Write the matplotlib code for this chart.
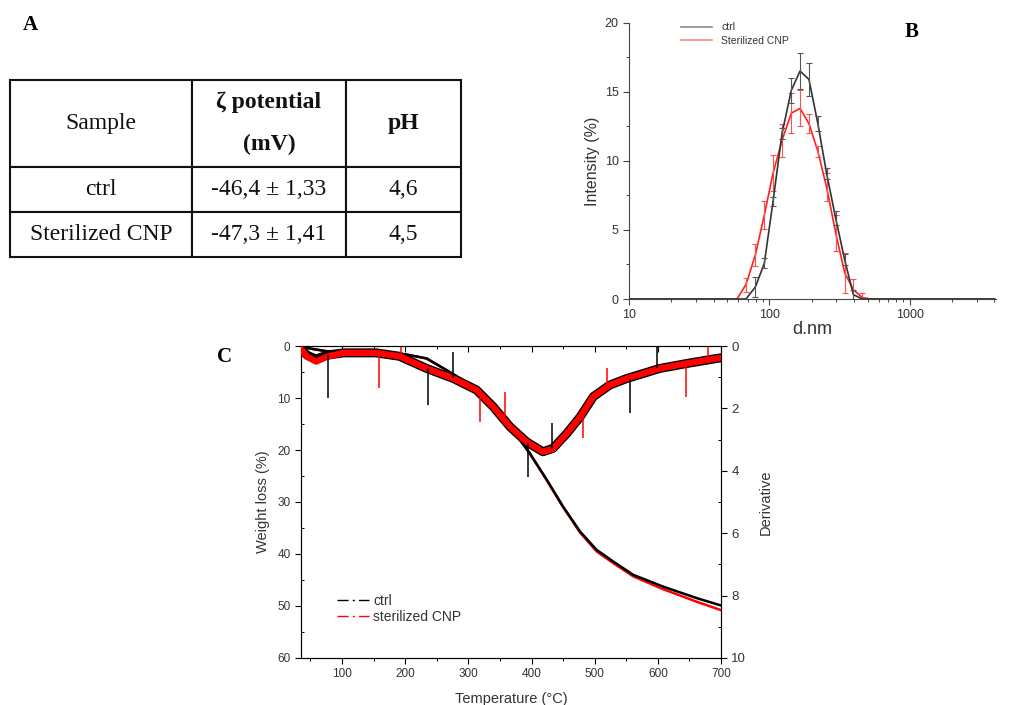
import numpy as np
import matplotlib
matplotlib.use('Agg')
import matplotlib.pyplot as plt
from matplotlib.lines import Line2D
from matplotlib.ticker import MultipleLocator, LogLocator, NullFormatter, FixedLocator

plt.rcParams['font.family'] = ['Liberation Sans', 'DejaVu Sans']

# --- A: zeta potential table ---
table_cols = ['Sample', 'ζ potential\n(mV)', 'pH']
table_rows = [['ctrl', '-46,4 ± 1,33', '4,6'],
              ['Sterilized CNP', '-47,3 ± 1,41', '4,5']]

# --- B: DLS size distribution (d.nm vs intensity %) ---
ctrl_d = [10, 68, 79.4, 92, 106, 123, 143, 165, 191, 221, 255, 296, 343, 396, 459, 4000]
ctrl_int = [0, 0, 0.87, 2.6, 7.06, 12.0, 15.1, 16.5, 15.9, 12.7, 9.1, 5.86, 2.84, 0.31, 0, 0]
ctrl_err = [0, 0, 0.75, 0.35, 0.35, 0.4, 0.9, 1.3, 1.2, 0.55, 0.4, 0.5, 0.4, 0.35, 0, 0]

cnp_d = [10, 58.7, 68, 79.4, 92, 106, 123, 143, 165, 191, 221, 255, 296, 343, 396, 459, 530, 4000]
cnp_int = [0, 0, 1.04, 3.2, 6.1, 9.1, 11.5, 13.45, 13.8, 12.7, 10.7, 8.1, 4.8, 1.9, 0.67, 0.1, 0, 0]
cnp_err = [0, 0, 0.5, 0.8, 1.0, 1.3, 1.2, 1.45, 1.3, 0.7, 0.4, 1.0, 1.3, 1.45, 0.8, 0.3, 0, 0]

# --- C: TGA / DTG ---
temp_tga = [35, 50, 75, 150, 200, 234, 276, 313, 350, 380, 397, 424, 450, 477, 503, 530, 561, 609, 662, 700]
wl_ctrl = [0, 0.5, 1.0, 1.0, 1.6, 2.4, 5.4, 8.3, 12.6, 17.8, 20.6, 25.7, 30.9, 35.7, 39.2, 41.5, 44.0, 46.3, 48.5, 49.9]
wl_cnp = [0, 0.5, 1.0, 1.0, 1.6, 2.4, 5.4, 8.3, 12.6, 17.8, 20.6, 25.8, 31.0, 35.9, 39.5, 41.8, 44.3, 46.8, 49.2, 50.8]

temp_dtg = [35, 45, 59, 75, 102, 154, 191, 234, 276, 313, 339, 366, 392, 418, 434, 456, 477, 498, 524, 551, 577, 603, 646, 693, 700]
dtg_ctrl = [0.1, 0.3, 0.42, 0.3, 0.22, 0.22, 0.33, 0.72, 1.04, 1.41, 1.94, 2.59, 3.07, 3.39, 3.28, 2.80, 2.27, 1.62, 1.25, 1.04, 0.88, 0.72, 0.56, 0.40, 0.38]
dtg_cnp = [0.1, 0.35, 0.5, 0.35, 0.22, 0.22, 0.33, 0.72, 1.04, 1.41, 1.94, 2.59, 3.07, 3.39, 3.30, 2.80, 2.27, 1.62, 1.25, 1.04, 0.88, 0.72, 0.56, 0.40, 0.38]

# sharp spikes in the DTG signal: temperature, band level, spike tip
spk_ctrl_t = [77, 236, 276, 395, 433, 556, 598]
spk_ctrl_a = [0.3, 0.72, 1.04, 3.1, 3.3, 1.05, 0.72]
spk_ctrl_b = [1.67, 1.88, 0.18, 4.2, 2.47, 2.16, 0.02]
spk_cnp_t = [158, 194, 318, 358, 481, 519, 644, 680]
spk_cnp_a = [0.22, 0.3, 1.5, 2.3, 2.2, 1.3, 0.56, 0.45]
spk_cnp_b = [1.34, 0.02, 2.43, 1.46, 2.96, 0.72, 1.62, 0.02]

W, H = 1022, 705
fig = plt.figure(figsize=(W / 100, H / 100), dpi=100)

def fx(px):
    return px / W

def fy(py):
    return 1 - py / H

serif = ['Liberation Serif', 'DejaVu Serif']

# ---------------- A ----------------
fig.text(fx(30), fy(25), 'A', fontsize=15, fontweight='bold', family=serif, ha='center', va='center')
ax_t = fig.add_axes([fx(10), fy(257), fx(451), 177 / H])
ax_t.axis('off')
tbl = ax_t.table(cellText=table_rows, colLabels=table_cols, cellLoc='center',
                 colWidths=[182, 154, 115], bbox=[0, 0, 1, 1])
tbl.auto_set_font_size(False)
for (r, c), cell in tbl.get_celld().items():
    cell.set_height(87 if r == 0 else 45)
    cell.set_linewidth(1.5)
    cell.set_edgecolor('#111111')
    txt = cell.get_text()
    txt.set_fontfamily(serif)
    txt.set_fontsize(17)
    txt.set_color('#111111')
    if r == 0 and c > 0:
        txt.set_fontweight('bold')
        txt.set_linespacing(2.3)

# ---------------- B ----------------
axb = fig.add_axes([fx(629), fy(299), fx(367), 276.3 / H])
axb.set_xscale('log')
ce = np.array(ctrl_err) > 0
re_ = np.array(cnp_err) > 0
axb.plot(cnp_d, cnp_int, color='#ff2020', lw=1.2, zorder=3)
axb.errorbar(np.array(cnp_d)[re_], np.array(cnp_int)[re_], yerr=np.array(cnp_err)[re_],
             fmt='none', ecolor='#ff5050', elinewidth=0.8, capsize=2.2, capthick=0.8, zorder=3)
axb.plot(ctrl_d, ctrl_int, color='#333333', lw=1.2, zorder=4)
axb.errorbar(np.array(ctrl_d)[ce], np.array(ctrl_int)[ce], yerr=np.array(ctrl_err)[ce],
             fmt='none', ecolor='#555555', elinewidth=0.8, capsize=2.2, capthick=0.8, zorder=4)
axb.set_xlim(10, 4100)
axb.set_ylim(0, 20)
for s in ['top', 'right']:
    axb.spines[s].set_visible(False)
for s in ['left', 'bottom']:
    axb.spines[s].set_color('#444444')
axb.yaxis.set_major_locator(MultipleLocator(5))
axb.yaxis.set_minor_locator(MultipleLocator(2.5))
axb.xaxis.set_major_locator(FixedLocator([10, 100, 1000]))
axb.xaxis.set_major_formatter(plt.FuncFormatter(lambda v, p: '%d' % v))
axb.xaxis.set_minor_locator(LogLocator(base=10, subs=np.arange(2, 10)))
axb.xaxis.set_minor_formatter(NullFormatter())
axb.tick_params(which='major', length=4, width=0.8, color='#444444', labelsize=9, labelcolor='#333333')
axb.tick_params(which='minor', length=2.5, width=0.7, color='#444444')
axb.set_ylabel('Intensity (%)', fontsize=11.5, color='#333333', labelpad=3)
axb.set_xlabel('d.nm', fontsize=13, color='#333333', labelpad=0)
hb = [Line2D([], [], color='#8a8a8a', lw=1.2), Line2D([], [], color='#ff8080', lw=1.2)]
axb.legend(hb, ['ctrl', 'Sterilized CNP'], loc='upper left', bbox_to_anchor=(0.115, 1.035),
           frameon=False, fontsize=7.5, handlelength=3.0, handletextpad=0.9, labelspacing=0.3,
           labelcolor='#333333')
fig.text(fx(912), fy(32), 'B', fontsize=15, fontweight='bold', family=serif, ha='center', va='center')

# ---------------- C ----------------
fig.text(fx(225), fy(357), 'C', fontsize=15, fontweight='bold', family=serif, ha='center', va='center')
axc = fig.add_axes([fx(301), fy(658), fx(420), 312 / H])
axc.plot(temp_tga, wl_cnp, color='red', lw=1.8, zorder=2)
axc.plot(temp_tga, wl_ctrl, color='black', lw=1.8, zorder=3)
axc.set_xlim(35, 700)
axc.set_ylim(60, 0)
axc.xaxis.set_major_locator(MultipleLocator(100))
axc.xaxis.set_minor_locator(MultipleLocator(50))
axc.yaxis.set_major_locator(MultipleLocator(10))
axc.yaxis.set_minor_locator(MultipleLocator(5))
axc.tick_params(axis='x', which='both', direction='out', top=False, labelsize=8.5, labelcolor='#333333')
axc.tick_params(axis='y', which='major', direction='out', labelsize=8.5, labelcolor='#333333')
axc.tick_params(axis='y', which='minor', direction='in')
axc.tick_params(which='major', length=4, width=0.8)
axc.tick_params(which='minor', length=2.5, width=0.7)
axc.set_xlabel('Temperature (°C)', fontsize=10.5, color='#333333', labelpad=8)
axc.set_ylabel('Weight loss (%)', fontsize=10.5, color='#333333', labelpad=5)
for s in axc.spines.values():
    s.set_color('#333333')

ax2 = axc.twinx()
ax2.plot(temp_dtg, dtg_ctrl, color='black', lw=6.5, solid_joinstyle='round', zorder=2)
ax2.plot(temp_dtg, dtg_cnp, color='red', lw=4.6, solid_joinstyle='round', zorder=3)
ax2.vlines(spk_ctrl_t, spk_ctrl_a, spk_ctrl_b, color='black', lw=1.1, zorder=4)
ax2.vlines(spk_cnp_t, spk_cnp_a, spk_cnp_b, color='red', lw=1.1, zorder=4)
ax2.set_ylim(10, 0)
ax2.yaxis.set_major_locator(MultipleLocator(2))
ax2.yaxis.set_minor_locator(MultipleLocator(1))
ax2.tick_params(axis='y', which='major', direction='out', length=4, width=0.8, labelsize=9.5, labelcolor='#333333')
ax2.tick_params(axis='y', which='minor', direction='in', length=2.5, width=0.7)
ax2.xaxis.set_visible(True)
ax2.tick_params(axis='x', which='both', direction='in', top=True, bottom=False,
                labeltop=False, labelbottom=False)
ax2.tick_params(axis='x', which='major', length=4, width=0.8)
ax2.tick_params(axis='x', which='minor', length=2.5, width=0.7)
ax2.set_ylabel('Derivative', fontsize=10.5, color='#333333', labelpad=9)

hc = [Line2D([], [], color='black', lw=1.0, ls=(0, (8, 3, 1.5, 3, 8, 30))),
      Line2D([], [], color='red', lw=1.0, ls=(0, (8, 3, 1.5, 3, 8, 30)))]
axc.legend(hc, ['ctrl', 'sterilized CNP'], loc='upper left', bbox_to_anchor=(0.055, 0.245),
           frameon=False, fontsize=10, handlelength=2.35, handletextpad=0.3, labelspacing=0.15,
           labelcolor='#333333')

fig.savefig('out.png', dpi=100)
